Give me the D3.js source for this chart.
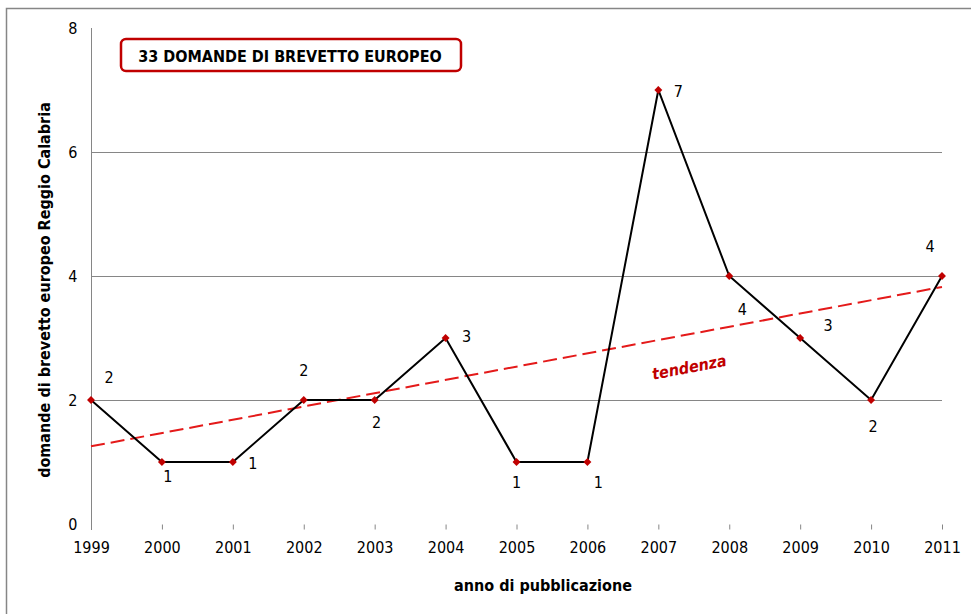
<!DOCTYPE html>
<html lang="it"><head><meta charset="utf-8">
<title>Domande di brevetto europeo</title>
<script src="https://cdnjs.cloudflare.com/ajax/libs/d3/7.8.5/d3.min.js"></script>
<style>
  body{ margin:0; background:#fff; }
  .chart text{ font-family: "Liberation Sans Narrow", "DejaVu Sans Condensed", sans-serif; fill:#000; }
  .tick-label{ font-size:16px; }
  .axis-title{ font-size:16px; font-weight:bold; }
  .point-label{ font-size:16px; }
</style>
</head>
<body>
<svg class="chart" width="971" height="614"></svg>
<script>
// data
var years = ["1999","2000","2001","2002","2003","2004","2005","2006","2007","2008","2009","2010","2011"]
var domande = [2,1,1,2,2,3,1,1,7,4,3,2,4]
var yTicks = [0,2,4,6,8]
// where each value label sits relative to its point
var labelOffset = [[18,-23],[6,14],[20,1],[0,-30],[2,22],[21,-2],[0,20],[11,20],[20,1],[13,33],[28,-13],[2,26],[-12,-30]]

var svg = d3.select('.chart')
var mLeft = 91, mRight = 942, mTop = 28, mBottom = 524

var x = d3.scalePoint().domain(years).range([mLeft, mRight])
var y = d3.scaleLinear().domain([0, 8]).range([mBottom, mTop])

// outer frame
svg.append("rect")
  .attr("x", 6.5).attr("y", 8.5)
  .attr("width", 1000).attr("height", 700)
  .attr("fill", "none")
  .attr("stroke", "#868686")
  .attr("stroke-width", 1.5)

// gridlines
svg.selectAll(".grid")
  .data(yTicks.filter(function(d){ return d > 0 && d < 8 }))
  .enter().append("line")
  .attr("x1", mLeft).attr("x2", mRight)
  .attr("y1", function(d){ return Math.round(y(d)) + 0.5 })
  .attr("y2", function(d){ return Math.round(y(d)) + 0.5 })
  .attr("stroke", "#868686")

// y axis
var yAxis = svg.append("g")
  .attr("transform", "translate(" + (mLeft + 0.5) + ",0)")
  .call(d3.axisLeft(y).tickValues(yTicks).tickSize(0).tickPadding(14))
yAxis.select(".domain").attr("stroke", "#868686").attr("d", "M0," + mTop + "V" + (mBottom + 6))
yAxis.selectAll("text").attr("class", "tick-label").attr("font-family", null).attr("font-size", null)

// x axis (only ticks, no line)
var xAxis = svg.append("g")
  .attr("transform", "translate(0," + (mBottom + 0.5) + ")")
  .call(d3.axisBottom(x).tickSize(5).tickPadding(12))
xAxis.select(".domain").remove()
xAxis.selectAll(".tick line").attr("stroke", "#868686")
xAxis.selectAll("text").attr("class", "tick-label").attr("font-family", null).attr("font-size", null)

// trend line (least squares)
var n = domande.length
var mx = d3.mean(d3.range(n)), my = d3.mean(domande)
var sxy = d3.sum(domande, function(v, i){ return (i - mx) * (v - my) })
var sxx = d3.sum(d3.range(n), function(i){ return (i - mx) * (i - mx) })
var slope = sxy / sxx, icpt = my - slope * mx
svg.append("line")
  .attr("x1", x(years[0])).attr("y1", y(icpt))
  .attr("x2", x(years[n - 1])).attr("y2", y(icpt + slope * (n - 1)))
  .attr("stroke", "#e41a1a")
  .attr("stroke-width", 2)
  .attr("stroke-dasharray", "14,6")

var trendX = x(years[8]) + 32
var trendY = y(icpt + slope * 8.4) + 38
var angle = Math.atan2(y(slope) - y(0), x(years[1]) - x(years[0])) * 180 / Math.PI
svg.append("text")
  .attr("x", trendX).attr("y", trendY)
  .attr("transform", "rotate(" + angle + "," + trendX + "," + trendY + ")")
  .attr("text-anchor", "middle")
  .attr("font-size", "16px")
  .attr("font-weight", "bold")
  .attr("font-style", "italic")
  .style("fill", "#c00000")
  .text("tendenza")

// series line
var line = d3.line()
  .x(function(d, i){ return x(years[i]) })
  .y(function(d){ return y(d) })
svg.append("path")
  .datum(domande)
  .attr("d", line)
  .attr("fill", "none")
  .attr("stroke", "#000")
  .attr("stroke-width", 2)

// diamond markers
svg.selectAll(".marker")
  .data(domande)
  .enter().append("path")
  .attr("d", d3.symbol().type(d3.symbolDiamond2).size(40))
  .attr("transform", function(d, i){ return "translate(" + x(years[i]) + "," + y(d) + ")" })
  .attr("fill", "#c00000")

// value labels
svg.selectAll(".point-label")
  .data(domande)
  .enter().append("text")
  .attr("class", "point-label")
  .attr("x", function(d, i){ return x(years[i]) + labelOffset[i][0] })
  .attr("y", function(d, i){ return y(d) + labelOffset[i][1] })
  .attr("text-anchor", "middle")
  .attr("dy", "0.35em")
  .text(function(d){ return d })

// title box
svg.append("rect")
  .attr("x", 121).attr("y", 39)
  .attr("width", 340).attr("height", 32)
  .attr("rx", 5)
  .attr("fill", "#fff")
  .attr("stroke", "#c00000")
  .attr("stroke-width", 2.5)
svg.append("text")
  .attr("x", 290).attr("y", 56)
  .attr("dy", "0.35em")
  .attr("text-anchor", "middle")
  .attr("font-size", "16px")
  .attr("font-weight", "bold")
  .text("33 DOMANDE DI BREVETTO EUROPEO")

// axis titles
svg.append("text")
  .attr("class", "axis-title")
  .attr("x", 543).attr("y", 591)
  .attr("text-anchor", "middle")
  .text("anno di pubblicazione")
svg.append("text")
  .attr("class", "axis-title")
  .attr("font-size", "17px")
  .attr("transform", "translate(50,290) rotate(-90)")
  .attr("text-anchor", "middle")
  .text("domande di brevetto europeo Reggio Calabria")
</script>
</body></html>
